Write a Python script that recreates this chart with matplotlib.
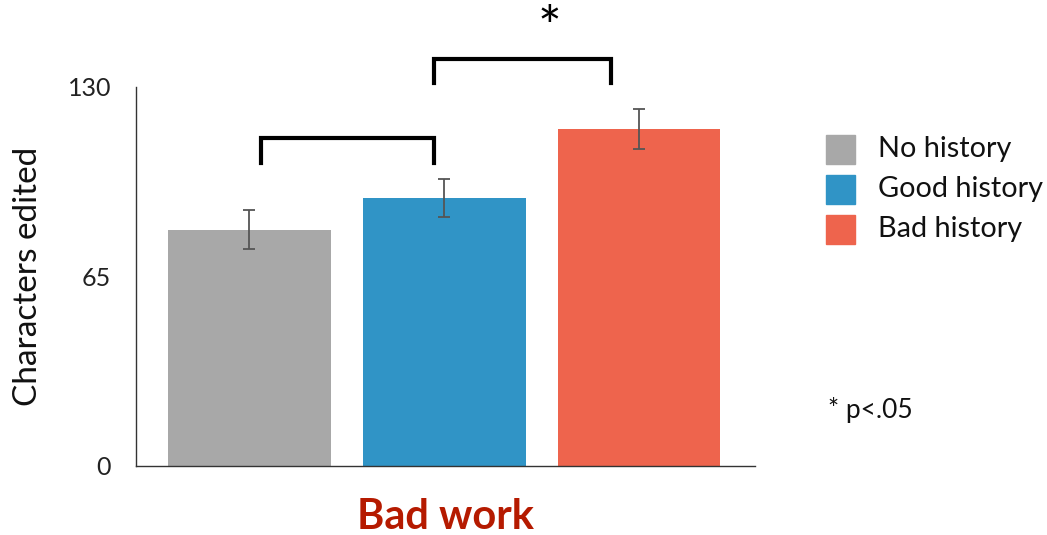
import numpy as np
import matplotlib.pyplot as plt
from matplotlib.patches import Rectangle

plt.rcParams['font.family'] = ['Lato', 'DejaVu Sans']

# Data
groups = ["No history", "Good history", "Bad history"]
means = [81.1, 91.9, 115.6]
errors = [6.6, 6.6, 6.7]
colors = ["#A8A8A8", "#3094C6", "#EE644D"]
yticks = [0, 65, 130]

fig = plt.figure(figsize=(10.47, 5.35), dpi=100)
ax = fig.add_axes([0.1299, 0.129, 0.5912, 0.7084])

x = np.arange(len(groups))
ax.bar(x, means, width=0.835, color=colors, zorder=2)
ax.errorbar(x, means, yerr=errors, fmt="none", ecolor="#555555",
            elinewidth=1.3, capsize=4, capthick=1.3, zorder=3)

ax.set_xlim(-0.582, 2.595)
ax.set_ylim(0, 130)
ax.set_yticks(yticks)
ax.set_yticklabels([str(t) for t in yticks], fontsize=18, color="#222222")
ax.tick_params(axis="y", length=0, pad=18)
ax.set_xticks([])
for s in ["top", "right"]:
    ax.spines[s].set_visible(False)
ax.spines["left"].set_color("#333333")
ax.spines["bottom"].set_color("#333333")
ax.spines["left"].set_linewidth(1.0)
ax.spines["bottom"].set_linewidth(1.0)
ax.set_ylabel("Characters edited", fontsize=24, color="#111111", labelpad=18)
ax.set_xlabel("Bad work", fontsize=30, fontweight="bold", color="#B51A00",
              labelpad=23)

# significance brackets
def bracket(x0, x1, ytop, ybot):
    ax.plot([x0, x0, x1, x1], [ybot, ytop, ytop, ybot], color="black",
            lw=3, solid_joinstyle="miter", clip_on=False, zorder=4)

bracket(0.06, 0.946, 112.6, 104.0)
bracket(0.946, 1.854, 139.6, 131.4)
ax.text(1.54, 149.5, "*", fontsize=40, ha="center", va="center",
        clip_on=False)

# legend drawn by hand
fw, fh = 1047, 535
for i, (g, c) in enumerate(zip(groups, colors)):
    yc = 149 + 40 * i
    fig.add_artist(Rectangle((826 / fw, 1 - (yc + 14.5) / fh), 29 / fw, 29 / fh,
                             transform=fig.transFigure, color=c))
    fig.text(878 / fw, 1 - yc / fh, g, fontsize=20.8, va="center", ha="left",
             color="#111111")

fig.text(828 / fw, 1 - 410 / fh, "* p<.05", fontsize=19, va="center",
         ha="left", color="#111111")

fig.savefig("out.png", dpi=100)
